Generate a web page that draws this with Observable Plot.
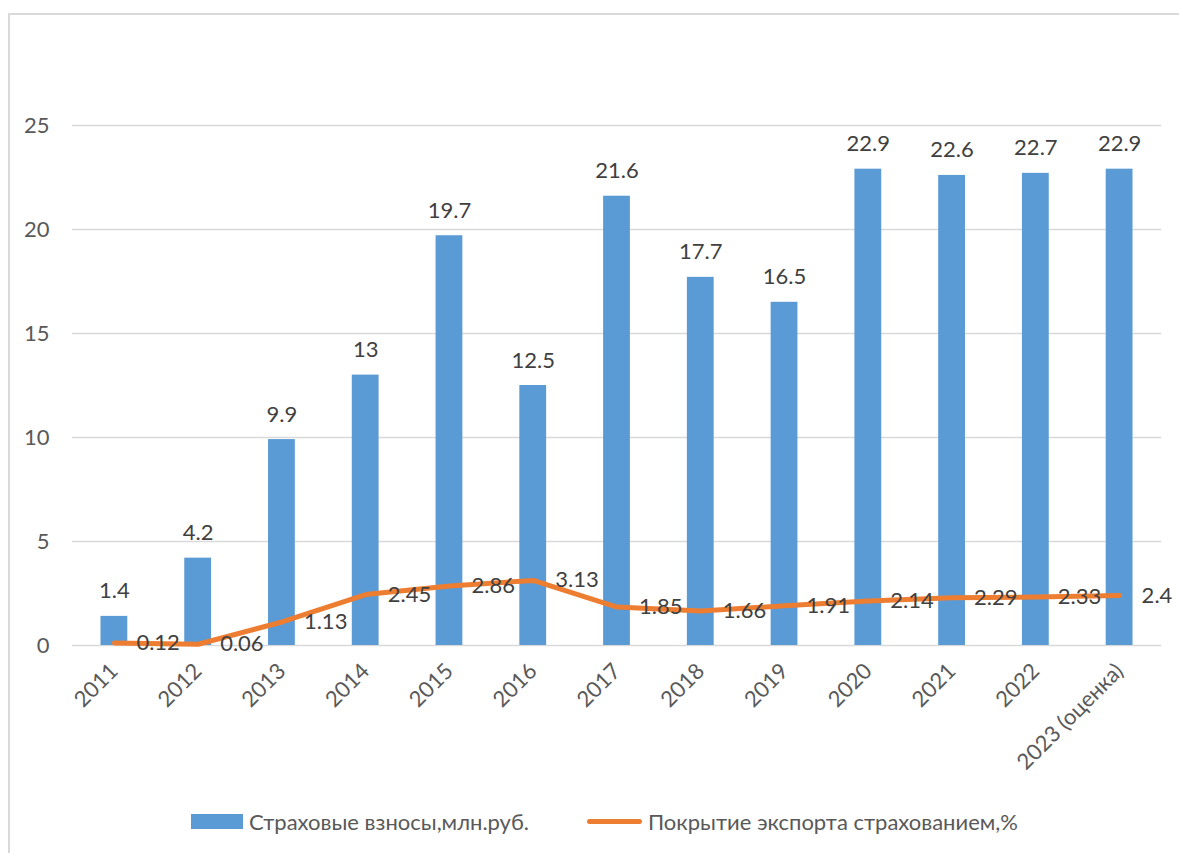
<!DOCTYPE html>
<html>
<head>
<meta charset="utf-8">
<script src="https://cdn.jsdelivr.net/npm/d3@7"></script>
<script src="https://cdn.jsdelivr.net/npm/@observablehq/plot@0.6"></script>
<style>
  body { margin: 0; background: #fff; font-family: Lato, "Noto Sans", sans-serif; }
  #frame { position: absolute; left: 8px; top: 13px; right: -4px; bottom: -4px; border-left: 2px solid #d9d9d9; border-top: 2px solid #d9d9d9; }
  #chart { position: absolute; left: 0; top: 0; }
  #legend { position: absolute; left: 0; top: 805px; width: 1179px; height: 32px; display: flex; align-items: center; font-size: 22px; color: #595959; }
  .item { display: flex; align-items: center; }
  .sw-bar { width: 52px; height: 15px; background: #5b9bd5; margin-right: 6px; }
  .sw-line { width: 55px; height: 5px; border-radius: 3px; background: #ed7d31; margin-right: 6px; }
</style>
</head>
<body>
<div id="frame"></div>
<div id="chart"></div>
<div id="legend">
  <div class="item" style="margin-left:191px"><div class="sw-bar"></div><span>Страховые взносы,млн.руб.</span></div>
  <div class="item" style="margin-left:58px"><div class="sw-line"></div><span>Покрытие экспорта страхованием,%</span></div>
</div>
<script>
const categories = ["2011","2012","2013","2014","2015","2016","2017","2018","2019","2020","2021","2022","2023 (оценка)"];
const premiums = [1.4, 4.2, 9.9, 13, 19.7, 12.5, 21.6, 17.7, 16.5, 22.9, 22.6, 22.7, 22.9];
const coverage = [0.12, 0.06, 1.13, 2.45, 2.86, 3.13, 1.85, 1.66, 1.91, 2.14, 2.29, 2.33, 2.4];
const yTicks = [0, 5, 10, 15, 20, 25];

const data = categories.map((c, i) => ({cat: c, premium: premiums[i], coverage: coverage[i]}));

const chart = Plot.plot({
  width: 1179,
  height: 795,
  marginLeft: 72,
  marginRight: 18,
  marginTop: 125,
  marginBottom: 150,
  style: {fontFamily: "Lato, 'Noto Sans', sans-serif", fontSize: "22px", color: "#595959", background: "transparent", overflow: "visible"},
  x: {domain: categories, paddingInner: 0.68, paddingOuter: 0.34, round: false, label: null},
  y: {domain: [0, 25], label: null},
  marks: [
    Plot.gridY(yTicks, {stroke: "#d9d9d9", strokeOpacity: 1, strokeWidth: 1.4}),
    Plot.axisY(yTicks, {tickSize: 0, tickPadding: 23, fill: "#595959", fontSize: 22, label: null}),
    Plot.axisX({tickSize: 0, tickRotate: -45, tickPadding: 22, fill: "#595959", fontSize: 22, label: null}),
    Plot.barY(data, {x: "cat", y: "premium", fill: "#5b9bd5"}),
    Plot.line(data, {x: "cat", y: "coverage", stroke: "#ed7d31", strokeWidth: 5, strokeLinecap: "round", strokeLinejoin: "round"}),
    Plot.text(data, {x: "cat", y: "premium", text: d => String(d.premium), dy: -25, fill: "#404040", fontSize: 22}),
    Plot.text(data, {x: "cat", y: "coverage", text: d => String(d.coverage), dx: 22, textAnchor: "start", fill: "#404040", fontSize: 22})
  ]
});
document.getElementById("chart").appendChild(chart);
</script>
</body>
</html>
